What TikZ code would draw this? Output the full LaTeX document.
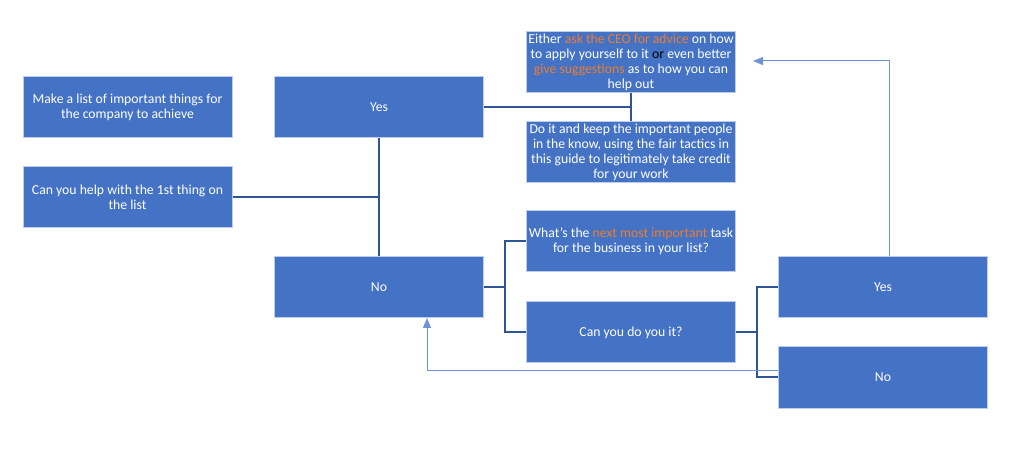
\documentclass[tikz,border=0pt]{standalone}
\usepackage{fontspec}
\setmainfont{Carlito}
\usetikzlibrary{arrows.meta}
\definecolor{boxblue}{RGB}{68,114,196}
\definecolor{linkblue}{RGB}{47,85,151}
\definecolor{backblue}{RGB}{110,147,214}
\definecolor{hiorange}{RGB}{237,125,49}
\newcommand{\hl}[1]{\textcolor{hiorange}{#1}}
\tikzset{every picture/.style={line width=0.75pt}}
\tikzset{
  stepbox/.style={draw=boxblue!35!white, fill=boxblue, text=white, minimum width=156.75pt, minimum height=45.75pt, inner xsep=0pt, inner ysep=0.75pt, align=center, font=\fontsize{10.3}{11.25}\selectfont},
  link/.style={draw=linkblue, line width=1.5pt},
  back/.style={draw=backblue, line width=0.75pt, -{Triangle[length=7.5pt,width=6pt]}}
}

\begin{document}
\begin{tikzpicture}[x=0.75pt,y=0.75pt,yscale=-1,xscale=1]
\useasboundingbox (0,0) rectangle (1024,459);

% Text Node
\node [stepbox] (list) at (127.5,107.5) {Make a list of important things for\\the company to achieve};
% Text Node
\node [stepbox] (help) at (127.5,197) {Can you help with the 1st thing on\\the list};
% Text Node
\node [stepbox] (yesA) at (379,107.5) {Yes};
% Text Node
\node [stepbox] (noA) at (379,287) {No};
% Text Node
\node [stepbox] (ceo) at (631,62) {Either \hl{ask the CEO for advice} on how\\to apply yourself to it \textcolor{black}{or} even better\\\hl{give suggestions} as to how you can\\help out};
% Text Node
\node [stepbox] (doit) at (631,152.5) {Do it and keep the important people\\in the know, using the fair tactics in\\this guide to legitimately take credit\\for your work};
% Text Node
\node [stepbox] (next) at (631,241.5) {What's the \hl{next most important} task\\for the business in your list?};
% Text Node
\node [stepbox] (cando) at (631,332.5) {Can you do you it?};
% Text Node
\node [stepbox] (yesB) at (883,287) {Yes};
% Text Node
\node [stepbox] (noB) at (883,377.5) {No};

\coordinate (noFork) at (505,287);
\coordinate (candoFork) at (757,332.5);
\coordinate (ceoIn) at (753,61);

% Connection
\draw [link] (yesA.south) -- (noA.north);
% Connection
\draw [link] (help.east) -- (help.east -| yesA.south);
% Connection
\draw [link] (yesA.east) -- (yesA.east -| ceo.south);
% Connection
\draw [link] (ceo.south) -- (doit.north);
% Connection
\draw [link] (noA.east) -- (noFork);
\draw [link] (next.west) -- (next.west -| noFork) -- (cando.west -| noFork) -- (cando.west);
% Connection
\draw [link] (cando.east) -- (candoFork);
\draw [link] (yesB.west) -- (yesB.west -| candoFork) -- (noB.west -| candoFork) -- (noB.west);
% Connection
\draw [back] ([xshift=4.5pt]yesB.north) |- (ceoIn);
% Connection
\draw [back] ([yshift=-4.9pt]noB.west) -| ([xshift=36pt]noA.south);

\end{tikzpicture}
\end{document}
